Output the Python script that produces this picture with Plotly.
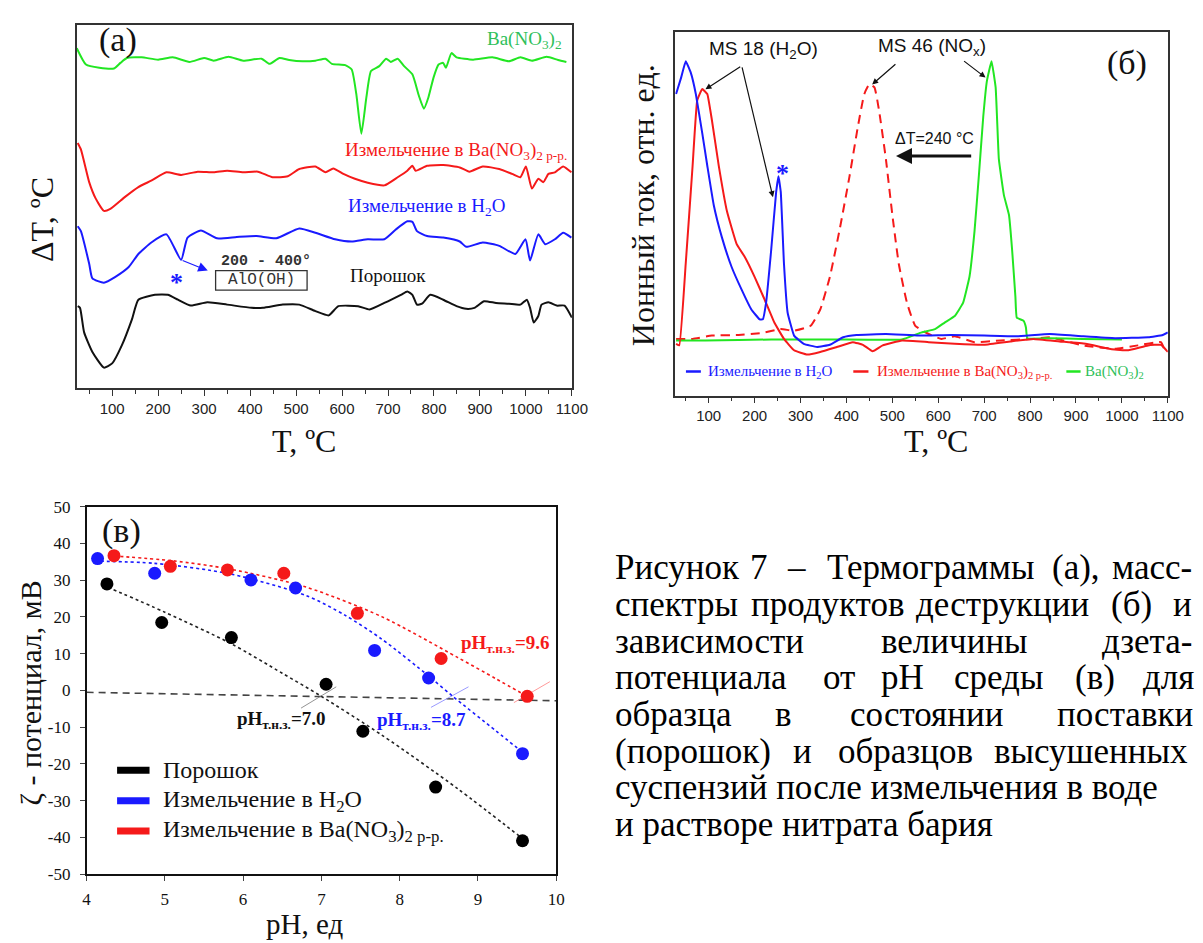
import plotly.graph_objects as go

W, H = 1203, 943
SERIF = "Liberation Serif"
SANS = "Liberation Sans"
MONO = "Liberation Mono"
RED = "#f51a1a"
BLUE = "#1a1aff"
GREEN_LINE = "#22e622"
GREEN_TXT = "#2fbf5a"

# ---------------- (a) DTA curves, T in degC, dT in arbitrary units -------------
a_green_T = [23, 43, 72, 104, 118, 132, 164, 200, 232, 268, 300, 321, 353, 385, 425, 442, 464, 485, 514, 542, 564, 578,
             607, 621, 631, 642, 653, 663, 681, 696, 706, 721, 735, 753, 767, 778, 788, 799, 810, 820, 826, 838, 849,
             885, 927, 963, 988, 1013, 1045, 1070, 1088]
a_green_v = [347, 330.3, 327, 326.3, 332, 337, 337.7, 335.3, 337.7, 333, 337, 334.3, 338.3, 334.3, 336.3, 331, 337, 335,
             333.7, 334.3, 336.3, 331, 329.7, 325.3, 300.3, 259.7, 297, 323.7, 328.7, 336.3, 333, 336.3, 328.7, 320.3,
             298.7, 285.3, 297, 317, 330.3, 332, 327, 342, 337.7, 335.3, 337.7, 333.7, 337.7, 334.3, 338.3, 335, 333]

a_red_T = [25, 32, 50, 64, 82, 96, 128, 157, 186, 218, 250, 286, 321, 350, 385, 417, 449, 482, 507, 542, 564, 581, 603,
           628, 656, 692, 721, 742, 753, 760, 785, 820, 856, 877, 906, 942, 970, 988, 1000, 1013, 1027, 1038, 1049,
           1063, 1081, 1099]
a_red_v = [250.3, 243.7, 210.3, 193.7, 181, 183, 195.3, 205.3, 212, 220.3, 217.7, 221, 220.3, 222, 220.3, 221, 215.3,
           216.3, 223.7, 226.3, 220.3, 224.3, 218.7, 213.7, 209.7, 207, 215.3, 222, 227, 222, 227, 227.7, 225.3, 221,
           226.3, 223.7, 218.7, 215.3, 226.3, 203.7, 213.7, 210.3, 218.7, 220.3, 226.3, 220.3]

a_blue_T = [25, 32, 50, 57, 82, 107, 136, 157, 186, 218, 250, 264, 293, 328, 371, 414, 457, 507, 542, 585, 621, 656,
            692, 717, 742, 753, 763, 785, 820, 856, 870, 906, 942, 977, 999, 1009, 1027, 1042, 1063, 1081, 1099]
a_blue_v = [165.3, 160.3, 127, 112, 107.7, 113.7, 123.7, 137, 149, 157, 131, 153.7, 161, 153, 154.3, 155.3, 153, 163,
            158.7, 152, 149.7, 152, 152, 162, 170.3, 169.7, 160.3, 155.3, 153.7, 149.7, 144.3, 148.7, 145.3, 137, 152,
            130.3, 157, 147, 152, 158.7, 153.7]

a_black_T = [25, 30, 39, 57, 82, 100, 121, 143, 157, 193, 221, 243, 271, 307, 350, 403, 428, 471, 507, 542, 571, 592,
             635, 660, 692, 728, 742, 753, 763, 774, 792, 820, 849, 870, 888, 909, 935, 963, 988, 1002, 1009, 1017,
             1027, 1034, 1049, 1067, 1084, 1100]
a_black_v = [83.7, 82, 57, 37, 21, 25.3, 43.7, 70.3, 90.3, 95.3, 95.3, 90.3, 84.3, 87.7, 85.3, 82, 82, 85.3, 85.3, 78.7,
             74.3, 83.7, 83.7, 80.3, 87, 95.3, 98.7, 95.3, 85.3, 86.3, 95.3, 90.3, 83.7, 81, 82, 88.7, 87, 86.3, 85.3,
             90.3, 82, 67, 73.7, 85.3, 87.7, 84.3, 84.3, 72]

# ---------------- (б) mass spectra, ion current in arbitrary units -------------
b_blue_T = [29, 40, 50, 61, 72, 86, 97, 111, 129, 150, 172, 193, 211, 218, 225, 236, 247, 252, 257, 264, 272, 286, 307,
            336, 364, 393, 422, 486, 557, 628, 700, 771, 843, 914, 985, 1057, 1089, 1100]
b_blue_v = [307.8, 324.5, 341.2, 329.5, 307.8, 267.8, 234.5, 194.5, 161.2, 131.2, 107.8, 87.8, 77.8, 77.8, 94.5, 147.8,
            207.8, 223.8, 207.8, 134.5, 84.5, 61.2, 52.8, 49.5, 51.8, 59.5, 61.8, 62.8, 61.2, 61.8, 61.2, 60.5, 62.8,
            60.5, 58.5, 59.5, 61.8, 64.5]

b_red_T = [29, 36, 50, 65, 75, 86, 97, 107, 122, 140, 161, 179, 200, 222, 243, 264, 286, 315, 343, 379, 414, 436, 457,
           479, 521, 579, 636, 700, 757, 807, 864, 921, 978, 1014, 1057, 1085, 1100]
b_red_v = [52.8, 51.2, 134.5, 234.5, 301.2, 312.8, 307.8, 281.2, 234.5, 187.8, 154.5, 141.2, 121.2, 97.8, 74.5, 57.8,
           46.2, 41.8, 44.5, 49.5, 54.5, 51.8, 45.2, 51.2, 56.2, 54.5, 52.8, 51.8, 55.2, 57.8, 55.2, 52.8, 47.2, 46.2,
           51.2, 51.8, 44.5]

b_red46_T = [29, 65, 107, 165, 215, 257, 286, 322, 343, 364, 386, 407, 425, 439, 450, 461, 471, 486, 500, 514, 532, 550,
             579, 607, 636, 679, 736, 807, 843, 914, 985, 1035, 1085, 1093]
b_red46_v = [57.8, 57.8, 61.2, 61.8, 63.8, 67.8, 66.2, 71.2, 87.8, 121.2, 171.2, 224.5, 274.5, 307.8, 317.8, 314.5,
             291.2, 241.2, 184.5, 134.5, 94.5, 71.2, 62.8, 57.8, 60.5, 54.5, 56.2, 57.8, 59.5, 51.2, 47.8, 51.2, 54.5,
             46.2]

b_green_T = [29, 93, 236, 379, 521, 564, 593, 614, 636, 654, 668, 679, 689, 698, 706, 716, 725, 732, 743, 754, 761, 768,
             771, 786, 791, 794, 843, 914, 1000]
b_green_v = [56.2, 56.2, 57.2, 57.2, 57.2, 64.5, 67.8, 74.5, 81.2, 94.5, 121.2, 167.8, 227.8, 284.5, 321.2, 341.2, 314.5,
             241.2, 204.5, 184.5, 147.8, 101.2, 79.5, 76.2, 69.5, 58.5, 58.5, 57.8, 57.2]

T_ticks = [100, 200, 300, 400, 500, 600, 700, 800, 900, 1000, 1100]
T_ticktext = [str(t) for t in T_ticks]
T_minor = [50, 150, 250, 350, 450, 550, 650, 750, 850, 950, 1050]

# ---------------- (в) zeta potential vs pH -------------
c_black_pH = [4.26, 4.96, 5.85, 7.06, 7.53, 8.46, 9.57]
c_black_z = [29.0, 18.5, 14.4, 1.7, -11.1, -26.3, -40.9]
c_blue_pH = [4.14, 4.87, 6.10, 6.67, 7.68, 8.37, 9.57]
c_blue_z = [35.9, 31.9, 30.1, 27.9, 10.9, 3.4, -17.2]
c_red_pH = [4.35, 5.07, 5.80, 6.52, 7.46, 8.53, 9.63]
c_red_z = [36.7, 33.8, 32.8, 31.9, 21.0, 8.7, -1.6]

fit_black_pH = [4.27, 5.0, 5.84, 6.5, 7.0, 7.77, 8.74, 9.57]
fit_black_z = [28.1, 21.3, 12.8, 4.7, -1.6, -12.1, -26.7, -40.3]
fit_blue_pH = [4.1, 4.87, 5.84, 6.81, 7.3, 7.77, 8.39, 8.68, 9.23, 9.57]
fit_blue_z = [35.2, 34.6, 31.7, 25.8, 20.5, 14.0, 3.6, -1.6, -11.0, -16.8]
fit_red_pH = [4.35, 5.1, 5.84, 6.81, 7.77, 8.74, 9.23, 9.63]
fit_red_z = [36.6, 35.3, 33.0, 28.1, 20.1, 9.0, 3.2, -1.6]

zero_pH = [4.0, 10.0]
zero_z = [-0.5, -2.8]

cross_black_pH, cross_black_z = [6.74, 7.19], [-4.8, 1.0]
cross_blue_pH, cross_blue_z = [8.40, 8.88], [-4.6, 1.0]
cross_red_pH, cross_red_z = [9.46, 9.92], [-3.3, 2.4]

pH_ticks = [4, 5, 6, 7, 8, 9, 10]
pH_ticktext = [str(v) for v in pH_ticks]
z_ticks = [50, 40, 30, 20, 10, 0, -10, -20, -30, -40, -50]
z_ticktext = ["50", "40", "30", "20", "10", "0", "-10", "-20", "-30", "-40", "-50"]

# caption: each line is a list of (word, x, anchor) -- justified text
caption = [
    [("Рисунок", 619, "left"), ("7", 768, "center"), ("–", 806, "center"), ("Термограммы", 942, "center"),
     ("(а),", 1090, "center"), ("масс-", 1125, "left")],
    [("спектры", 619, "left"), ("продуктов", 837, "center"), ("деструкции", 1015, "center"),
     ("(б)", 1147, "center"), ("и", 1187, "left")],
    [("зависимости", 619, "left"), ("величины", 967, "center"), ("дзета-", 1115, "left")],
    [("потенциала", 619, "left"), ("от", 849, "center"), ("pH", 914, "center"), ("среды", 1011, "center"),
     ("(в)", 1109, "center"), ("для", 1156, "left")],
    [("образца", 619, "left"), ("в", 793, "center"), ("состоянии", 938, "center"), ("поставки", 1069, "left")],
    [("(порошок)", 619, "left"), ("и", 812, "center"), ("образцов", 917, "center"), ("высушенных", 1005, "left")],
    [("суспензий после измельчения в воде", 619, "left")],
    [("и растворе нитрата бария", 619, "left")],
]


def px(x):
    return x / W


def py(y):
    return 1 - y / H


fig = go.Figure()

# (a)
for T, v, c in [(a_green_T, a_green_v, GREEN_LINE), (a_red_T, a_red_v, RED),
                (a_blue_T, a_blue_v, BLUE), (a_black_T, a_black_v, "#111111")]:
    fig.add_trace(go.Scatter(x=T, y=v, mode="lines", line=dict(color=c, width=2, shape="spline", smoothing=0.5),
                             xaxis="x", yaxis="y", showlegend=False, hoverinfo="skip"))

# (б)
fig.add_trace(go.Scatter(x=b_red46_T, y=b_red46_v, mode="lines",
                         line=dict(color=RED, width=2, dash="9px,6px", shape="spline", smoothing=0.4),
                         xaxis="x2", yaxis="y2", showlegend=False))
fig.add_trace(go.Scatter(x=b_green_T, y=b_green_v, mode="lines",
                         line=dict(color=GREEN_LINE, width=2, shape="spline", smoothing=0.3),
                         xaxis="x2", yaxis="y2", showlegend=False))
fig.add_trace(go.Scatter(x=b_red_T, y=b_red_v, mode="lines",
                         line=dict(color=RED, width=2, shape="spline", smoothing=0.3),
                         xaxis="x2", yaxis="y2", showlegend=False))
fig.add_trace(go.Scatter(x=b_blue_T, y=b_blue_v, mode="lines",
                         line=dict(color=BLUE, width=2, shape="spline", smoothing=0.3),
                         xaxis="x2", yaxis="y2", showlegend=False))

# (в)
fig.add_trace(go.Scatter(x=zero_pH, y=zero_z, mode="lines", line=dict(color="#444444", width=1.6, dash="7px,5px"),
                         xaxis="x3", yaxis="y3", showlegend=False))
for xs, ys, c in [(cross_black_pH, cross_black_z, "#777777"), (cross_blue_pH, cross_blue_z, "#8080ff"),
                  (cross_red_pH, cross_red_z, "#ff8080")]:
    fig.add_trace(go.Scatter(x=xs, y=ys, mode="lines", line=dict(color=c, width=0.8),
                             xaxis="x3", yaxis="y3", showlegend=False))
for xs, ys, c in [(fit_black_pH, fit_black_z, "#222222"), (fit_blue_pH, fit_blue_z, BLUE),
                  (fit_red_pH, fit_red_z, RED)]:
    fig.add_trace(go.Scatter(x=xs, y=ys, mode="lines",
                             line=dict(color=c, width=1.6, dash="dot", shape="spline", smoothing=0.8),
                             xaxis="x3", yaxis="y3", showlegend=False))
for xs, ys, c in [(c_black_pH, c_black_z, "#000000"), (c_blue_pH, c_blue_z, BLUE), (c_red_pH, c_red_z, RED)]:
    fig.add_trace(go.Scatter(x=xs, y=ys, mode="markers", marker=dict(color=c, size=13, line=dict(width=0)),
                             xaxis="x3", yaxis="y3", showlegend=False))

ax_common = dict(showgrid=False, zeroline=False, showline=True, mirror=True)

fig.update_layout(
    width=W, height=H, margin=dict(l=0, r=0, t=0, b=0),
    paper_bgcolor="white", plot_bgcolor="white", showlegend=False,
    xaxis=dict(domain=[px(74), px(577.5)], range=[23, 1100], anchor="y", linecolor="#333", linewidth=1.5,
               ticks="outside", ticklen=6, tickwidth=1.2, tickcolor="#333", tickvals=T_ticks, ticktext=T_ticktext,
               tickfont=dict(family=SANS, size=15, color="#222"),
               minor=dict(tickvals=T_minor, ticks="outside", ticklen=4, tickcolor="#333"), **ax_common),
    yaxis=dict(domain=[py(387), py(16)], range=[0, 371], anchor="x", linecolor="#333", linewidth=1.5,
               showticklabels=False, ticks="", **ax_common),
    xaxis2=dict(domain=[px(682.5), px(1183.5)], range=[27, 1100], anchor="y2", linecolor="#333", linewidth=1.5,
                ticks="outside", ticklen=6, tickwidth=1.2, tickcolor="#333", tickvals=T_ticks, ticktext=T_ticktext,
                tickfont=dict(family=SANS, size=15, color="#222"),
                minor=dict(tickvals=T_minor, ticks="outside", ticklen=4, tickcolor="#333"), **ax_common),
    yaxis2=dict(domain=[py(394.5), py(23.5)], range=[0, 371], anchor="x2", linecolor="#333", linewidth=1.5,
                showticklabels=False, ticks="", **ax_common),
    xaxis3=dict(domain=[px(84), px(561.5)], range=[4, 10], anchor="y3", linecolor="#111", linewidth=1.5,
                ticks="outside", ticklen=5, tickwidth=1.2, tickvals=pH_ticks, ticktext=pH_ticktext,
                ticklabelstandoff=4, tickfont=dict(family=SERIF, size=17, color="#111"), **ax_common),
    yaxis3=dict(domain=[py(883), py(508)], range=[-50, 50], anchor="x3", linecolor="#111", linewidth=1.5,
                ticks="outside", ticklen=5, tickwidth=1.2, tickvals=z_ticks, ticktext=z_ticktext,
                ticklabelstandoff=6, tickfont=dict(family=SERIF, size=17, color="#111"), **ax_common),
)

ann = []
shapes = []


def pa(x, y, text, size, color="#111", family=SERIF, xanchor="center", yanchor="middle", angle=0):
    ann.append(dict(x=px(x), y=py(y), xref="paper", yref="paper", text=text, showarrow=False,
                    font=dict(family=family, size=size, color=color), xanchor=xanchor, yanchor=yanchor,
                    textangle=angle))


def da(xr, yr, x, y, text, size, color="#111", family=SERIF, xanchor="center", yanchor="middle"):
    ann.append(dict(x=x, y=y, xref=xr, yref=yr, text=text, showarrow=False,
                    font=dict(family=family, size=size, color=color), xanchor=xanchor, yanchor=yanchor))


def arrow(xr, yr, x0, y0, x1, y1, color="#111", width=1.2, head=2, size=1.0):
    ann.append(dict(x=x1, y=y1, ax=x0, ay=y0, xref=xr, yref=yr, axref=xr, ayref=yr, text="", showarrow=True,
                    arrowhead=head, arrowsize=size, arrowwidth=width, arrowcolor=color))


# ---- (a) annotations
da("x", "y", 113, 355, "(a)", 34)
da("x", "y", 911, 355, "Ba(NO<sub>3</sub>)<sub>2</sub>", 19, GREEN_TXT, xanchor="left")
da("x", "y", 603, 242, "Измельчение в Ba(NO<sub>3</sub>)<sub>2 р-р.</sub>", 19, RED, xanchor="left")
da("x", "y", 609, 185, "Измельчение в H<sub>2</sub>O", 19, BLUE, xanchor="left")
da("x", "y", 699, 115, "Порошок", 19, "#111")
da("x", "y", 434, 129, "<b>200 - 400°</b>", 15, "#333", family=MONO)
da("x", "y", 424, 110, "AlO(OH)", 16, "#333", family=MONO)
shapes.append(dict(type="rect", xref="x", yref="y", x0=325, x1=524, y0=100, y1=120,
                   line=dict(color="#333", width=1.3)))
da("x", "y", 239, 108, "<b>*</b>", 26, BLUE)
arrow("x", "y", 250, 131, 308, 120, BLUE, 1.2, 2, 1.6)
pa(38, 215, "ΔT, ºC", 32, angle=-90)
pa(305, 441, "T, ºC", 32)

# ---- (б) annotations
da("x2", "y2", 219, 353, "MS 18 (H<sub>2</sub>O)", 19, "#111", family=SANS)
da("x2", "y2", 587, 356, "MS 46 (NO<sub>x</sub>)", 19, "#111", family=SANS)
da("x2", "y2", 1011, 339.5, "(б)", 34)
arrow("x2", "y2", 172, 336.5, 93, 312.5)
arrow("x2", "y2", 172, 336.5, 240, 202.5)
arrow("x2", "y2", 510, 339.5, 456, 317.5)
arrow("x2", "y2", 653, 342.5, 703, 324.5)
da("x2", "y2", 261, 226.5, "<b>*</b>", 26, BLUE)
da("x2", "y2", 591, 262.5, "ΔT=240 °C", 16, "#111", family=SANS)
arrow("x2", "y2", 675, 244.5, 508, 244.5, "#111", 3.2, 2, 1.0)
for x0, x1, xt, label, c in [
    (50.5, 83, 94.6, "Измельчение в H<sub>2</sub>O", BLUE),
    (415, 448, 462, "Измельчение в Ba(NO<sub>3</sub>)<sub>2 р-р.</sub>", RED),
    (879, 910, 916, "Ba(NO<sub>3</sub>)<sub>2</sub>", GREEN_TXT),
]:
    shapes.append(dict(type="line", xref="x2", yref="y2", x0=x0, x1=x1, y0=24.5, y1=24.5,
                       line=dict(color=(GREEN_LINE if c == GREEN_TXT else c), width=2.5)))
    da("x2", "y2", xt, 24.5, label, 15, c, xanchor="left")
pa(650, 200, "Ионный ток, отн. ед.", 32, angle=-90)
pa(948, 441, "T, ºC", 32)

# ---- (в) annotations
da("x3", "y3", 4.44, 43.3, "(в)", 34)
da("x3", "y3", 8.76, 12.6, "<b>pH<sub>т.н.з.</sub>=9.6</b>", 19, RED, xanchor="left")
da("x3", "y3", 5.90, -7.9, "<b>pH<sub>т.н.з.</sub>=7.0</b>", 19, "#111", xanchor="left")
da("x3", "y3", 7.68, -8.4, "<b>pH<sub>т.н.з.</sub>=8.7</b>", 19, BLUE, xanchor="left")
for yy, label, c in [(777, "Порошок", "#000000"), (808, "Измельчение в H<sub>2</sub>O", BLUE),
                     (839, "Измельчение в Ba(NO<sub>3</sub>)<sub>2 р-р.</sub>", RED)]:
    shapes.append(dict(type="line", xref="paper", yref="paper", x0=px(115), x1=px(148), y0=py(yy), y1=py(yy),
                       line=dict(color=c, width=7)))
    pa(160, yy, label, 24, "#111", xanchor="left")
pa(27, 698, "ζ - потенциал, мВ", 30, angle=-90)
pa(306, 934, "pH, ед", 29)

# ---- caption
line_y0, line_dy = 570, 37.5
for i, words in enumerate(caption):
    for w, x, anc in words:
        pa(x, line_y0 + i * line_dy, w, 35, "#000", xanchor=anc)

fig.update_layout(annotations=ann, shapes=shapes)
fig.write_html("out.html")
